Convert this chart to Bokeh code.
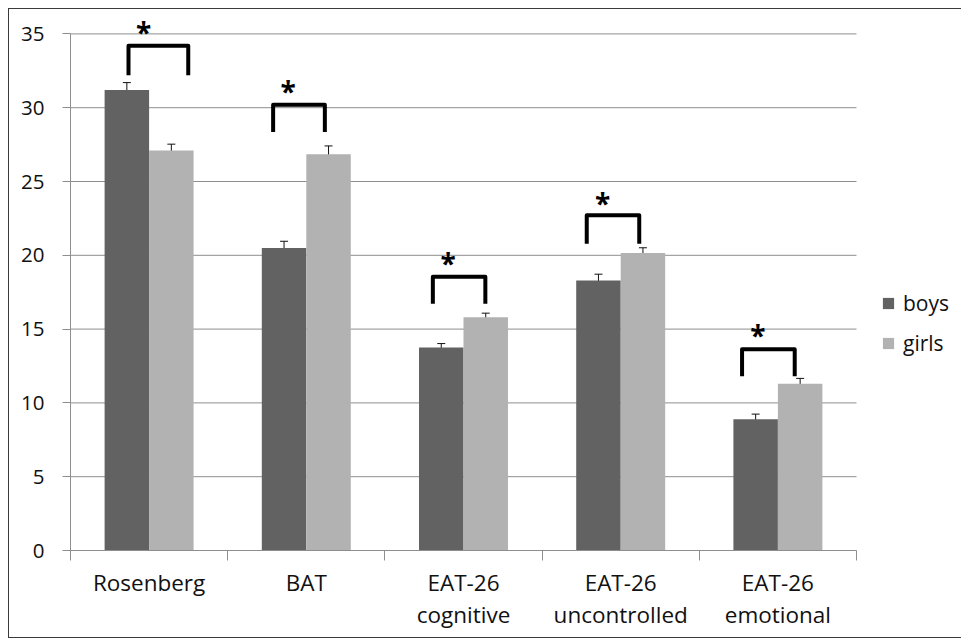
from bokeh.plotting import figure
from bokeh.models import (Range1d, LinearAxis, FixedTicker,
                          Whisker, ColumnDataSource, Legend, LegendItem, TeeHead)
from bokeh.core.properties import value
from bokeh.embed import file_html
from bokeh.resources import INLINE

# ---- data ----
categories = ["Rosenberg", "BAT", "EAT-26\ncognitive", "EAT-26\nuncontrolled", "EAT-26\nemotional"]
boys = [31.2, 20.5, 13.75, 18.3, 8.9]
boys_err = [0.5, 0.45, 0.27, 0.42, 0.34]
girls = [27.1, 26.85, 15.8, 20.15, 11.3]
girls_err = [0.43, 0.56, 0.28, 0.36, 0.36]
y_ticks = [0, 5, 10, 15, 20, 25, 30, 35]
series = ["boys", "girls"]

# significance brackets (annotation, per category: offsets from category centre, y levels)
sig_left = [-0.131, -0.211, -0.195, -0.216, -0.228]
sig_right = [0.249, 0.118, 0.139, 0.118, 0.107]
sig_top = [34.2, 30.2, 18.55, 22.72, 13.63]
sig_bottom = [32.2, 28.36, 16.72, 20.79, 11.8]
star_dx = [-0.035, -0.115, -0.098, -0.115, -0.128]
star_y = [35.15, 31.15, 19.5, 23.55, 14.6]

FONT = "Open Sans"
BOYS_C = "#626262"
GIRLS_C = "#b2b2b2"
GRID_C = "#8e8e8e"

n = len(categories)
BW = 0.283
CAT_PX = 157.2           # pixel width of one category slot
W, H = 953, 630
ML, MB, MT = 61, 89, 2
centers = [i + 0.5 for i in range(n)]
src = ColumnDataSource(dict(
    xb=[c - BW / 2 for c in centers],
    xg=[c + BW / 2 for c in centers],
    boys=boys, girls=girls,
    boys_lo=[v - e for v, e in zip(boys, boys_err)],
    boys_hi=[v + e for v, e in zip(boys, boys_err)],
    girls_lo=[v - e for v, e in zip(girls, girls_err)],
    girls_hi=[v + e for v, e in zip(girls, girls_err)],
))

p = figure(x_range=Range1d(0, (W - ML) / CAT_PX),
           y_range=Range1d(0, (H - MB - MT) / 14.76),
           width=W, height=H,
           output_backend="svg", toolbar_location=None,
           x_axis_location=None,
           min_border_left=ML, min_border_right=0,
           min_border_top=MT, min_border_bottom=MB)
p.outline_line_color = None
p.xgrid.visible = False
p.ygrid.visible = False
p.styles = {"margin-left": "8px", "margin-top": "8px",
            "border-left": "1px solid #3a3a3a", "border-top": "1px solid #3a3a3a",
            "border-bottom": "1px solid #3a3a3a"}

# horizontal gridlines limited to the category area
p.segment(x0=[0] * len(y_ticks), x1=[n] * len(y_ticks), y0=y_ticks, y1=y_ticks,
          line_color=GRID_C, line_width=1)

# y axis
ya = p.yaxis[0]
ya.ticker = FixedTicker(ticks=y_ticks)
ya.bounds = (0, 35)
ya.axis_line_color = GRID_C
ya.major_tick_line_color = GRID_C
ya.major_tick_out = 8
ya.major_tick_in = 0
ya.minor_tick_line_color = None
ya.major_label_text_font = FONT
ya.major_label_text_font_size = "20.5px"
ya.major_label_text_color = "#111111"
ya.major_label_standoff = 18

# x axis: boundary ticks
tick_axis = LinearAxis(ticker=FixedTicker(ticks=list(range(n + 1))),
                       bounds=(0, n),
                       major_label_overrides={i: "" for i in range(n + 1)},
                       major_label_text_font_size="1px", major_label_standoff=0,
                       major_tick_out=10, major_tick_in=0,
                       minor_tick_line_color=None,
                       axis_line_color=GRID_C, major_tick_line_color=GRID_C)
p.add_layout(tick_axis, "below")

# x axis: category labels at centres
label_axis = LinearAxis(ticker=FixedTicker(ticks=centers),
                        major_label_overrides={c: lab for c, lab in zip(centers, categories)},
                        axis_line_color=None, major_tick_line_color=None,
                        minor_tick_line_color=None,
                        major_tick_out=0, major_tick_in=0,
                        major_label_standoff=6,
                        major_label_text_font=FONT,
                        major_label_text_font_size="22.5px",
                        major_label_text_line_height=1.05,
                        major_label_text_color="#111111")
p.add_layout(label_axis, "below")

# bars
rb = p.vbar(x="xb", top="boys", width=BW, source=src, fill_color=BOYS_C, line_color=None)
rg = p.vbar(x="xg", top="girls", width=BW, source=src, fill_color=GIRLS_C, line_color=None)

for base, lo, hi in [("xb", "boys_lo", "boys_hi"), ("xg", "girls_lo", "girls_hi")]:
    w = Whisker(source=src, base=base, lower=lo, upper=hi,
                line_color="#111111", line_width=1,
                upper_head=TeeHead(size=8, line_color="#111111", line_width=1),
                lower_head=TeeHead(size=8, line_color="#111111", line_width=1))
    p.add_layout(w)

# significance brackets
xs, ys, sx = [], [], []
for i, c in enumerate(centers):
    xs.append([c + sig_left[i], c + sig_left[i], c + sig_right[i], c + sig_right[i]])
    ys.append([sig_bottom[i], sig_top[i], sig_top[i], sig_bottom[i]])
    sx.append(c + star_dx[i])
p.multi_line(xs=xs, ys=ys, line_color="black",
             line_width=4, line_join="round", line_cap="butt")
p.text(x=sx, y=star_y, text=["*"] * len(sx),
       text_align="center", text_baseline="middle", text_font=value(FONT),
       text_font_style="bold", text_font_size="28px", text_color="black")

legend = Legend(items=[LegendItem(label=series[0], renderers=[rb]),
                       LegendItem(label=series[1], renderers=[rg])],
                location=(811, 193), orientation="vertical",
                border_line_color=None, background_fill_alpha=0,
                padding=0, margin=0, spacing=12,
                glyph_width=14, glyph_height=14, label_height=20,
                label_standoff=8, label_text_font=FONT,
                label_text_font_size="21px", label_text_color="#111111")
p.add_layout(legend, "center")

open("out.html", "w").write(file_html(p, INLINE))
